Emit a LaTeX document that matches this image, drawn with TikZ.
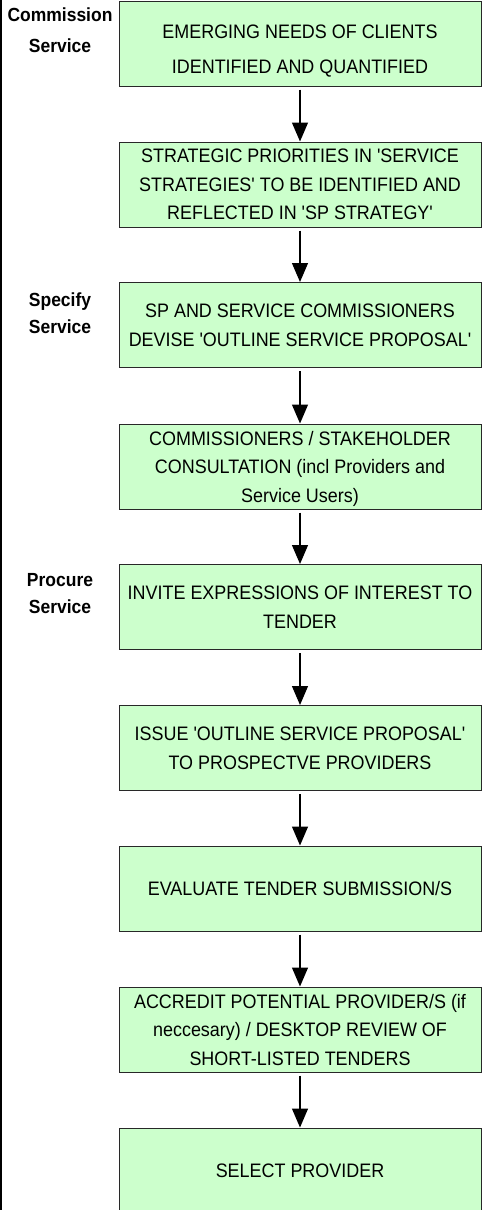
\documentclass[tikz,border=0pt]{standalone}
\usepackage{fontspec}
\setmainfont{Liberation Sans}[Ligatures=TeXOff]
\newfontfamily\boxfont{Liberation Sans}[Ligatures=TeXOff, FakeStretch=0.92]
\usetikzlibrary{arrows.meta}
\definecolor{boxgreen}{RGB}{204,255,204}
\definecolor{boxline}{RGB}{40,40,40}
\tikzset{
  stepbox/.style={draw=boxline, fill=boxgreen, line width=1pt, minimum width=362pt,
    minimum height=85pt, inner sep=0pt, align=center, text depth=0pt,
    font=\boxfont\fontsize{19.5}{28.5}\selectfont},
  boxtext/.style={align=center, inner sep=0pt, text depth=0pt, font=\boxfont\fontsize{19.5}{35}\selectfont},
  phase/.style={align=center, inner sep=0pt, font=\boxfont\bfseries\fontsize{19}{27}\selectfont},
  flow/.style={line width=1.3pt, -{Triangle[width=16pt,length=19pt]}, shorten <=3pt}
}
\begin{document}
\begin{tikzpicture}[x=1pt,y=-1pt]
\useasboundingbox (0,0) rectangle (482,1210);
\clip (0,0) rectangle (482,1210);
\draw[line width=1.5pt] (0.75,0) -- (0.75,1210);

\node[stepbox, label={[boxtext, yshift=-5.5pt]center:EMERGING NEEDS OF CLIENTS\\IDENTIFIED AND QUANTIFIED}] (b1) at (300,43.5) {};
\node[stepbox] (b2) at (300,184.5) {STRATEGIC PRIORITIES IN 'SERVICE\\STRATEGIES' TO BE IDENTIFIED AND\\REFLECTED IN 'SP STRATEGY'};
\node[stepbox] (b3) at (300,325) {SP AND SERVICE COMMISSIONERS\\DEVISE 'OUTLINE SERVICE PROPOSAL'};
\node[stepbox] (b4) at (300,466.5) {COMMISSIONERS / STAKEHOLDER\\CONSULTATION (incl Providers and\\Service Users)};
\node[stepbox] (b5) at (300,607) {INVITE EXPRESSIONS OF INTEREST TO\\TENDER};
\node[stepbox] (b6) at (300,748) {ISSUE 'OUTLINE SERVICE PROPOSAL'\\TO PROSPECTVE PROVIDERS};
\node[stepbox] (b7) at (300,888.5) {EVALUATE TENDER SUBMISSION/S};
\node[stepbox] (b8) at (300,1029.5) {ACCREDIT POTENTIAL PROVIDER/S (if\\neccesary) / DESKTOP REVIEW OF\\SHORT-LISTED TENDERS};
\node[stepbox] (b9) at (300,1170.5) {SELECT PROVIDER};

\node[phase] (p1) at (60,30) {Commission\\[4pt]Service};
\node[phase] (p2) at (60,313) {Specify\\Service};
\node[phase] (p3) at (60,594) {Procure\\Service};

\foreach \a/\b in {b1/b2,b2/b3,b3/b4,b4/b5,b5/b6,b6/b7,b7/b8,b8/b9}
  \draw[flow] (\a) -- (\b);
\end{tikzpicture}
\end{document}
